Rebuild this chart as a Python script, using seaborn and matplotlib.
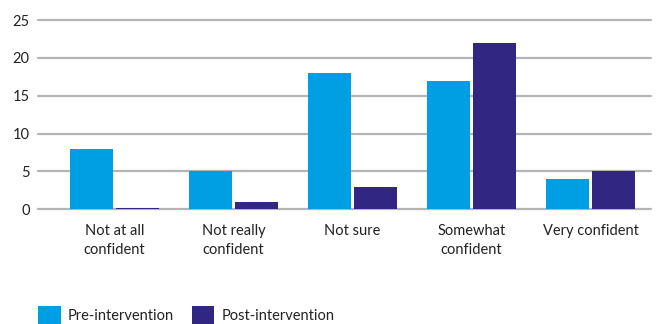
import matplotlib
matplotlib.use("Agg")
import matplotlib.pyplot as plt
import matplotlib.patches as mpatches
import seaborn as sns
import pandas as pd

categories = ["Not at all\nconfident", "Not really\nconfident", "Not sure",
              "Somewhat\nconfident", "Very confident"]
pre_values = [8, 5, 18, 17, 4]
post_values = [0.15, 1, 3, 22, 5]
series_names = ["Pre-intervention", "Post-intervention"]
y_ticks = [0, 5, 10, 15, 20, 25]

colors = ["#009FE3", "#312783"]
grid_color = "#b4b4b4"
text_color = "#222222"

df = pd.DataFrame({
    "category": categories * 2,
    "value": pre_values + post_values,
    "series": [series_names[0]] * len(categories) + [series_names[1]] * len(categories),
})

sns.set_style("white")
plt.rcParams["font.family"] = ["Lato", "DejaVu Sans"]

fig = plt.figure(figsize=(6.56, 3.24), dpi=100)
ax = fig.add_axes([38 / 656, 114.7 / 324, (651 - 38) / 656, (304 - 114.7) / 324])

sns.barplot(data=df, x="category", y="value", hue="series", order=categories,
            hue_order=series_names, palette=colors, width=0.765, gap=0.055,
            saturation=1, linewidth=0, edgecolor="none", ax=ax, legend=False)

ax.set_xlim(-0.643, 4.508)
ax.set_ylim(0, 25)
ax.set_yticks(y_ticks)
ax.set_axisbelow(True)
ax.yaxis.grid(True, color=grid_color, linewidth=1.6)
ax.xaxis.grid(False)
for gl in ax.get_ygridlines():
    gl.set_clip_on(False)
for s in ax.spines.values():
    s.set_visible(False)

ax.set_xlabel("")
ax.set_ylabel("")
ax.tick_params(axis="y", length=0, pad=6, labelsize=10.5, labelcolor=text_color)
ax.tick_params(axis="x", length=0, pad=10.5, labelsize=10.5, labelcolor=text_color)
for lbl in ax.get_xticklabels():
    lbl.set_linespacing(1.45)

handles = [mpatches.Patch(facecolor=c, edgecolor="none", label=n)
           for c, n in zip(colors, series_names)]
fig.legend(handles=handles, loc="lower left", bbox_to_anchor=(38 / 656, 0.0),
           ncol=2, frameon=False, fontsize=10.5, handlelength=1.55, handleheight=1.55,
           handletextpad=0.5, columnspacing=1.2, borderpad=0.0, borderaxespad=0.0,
           labelcolor=text_color)

fig.savefig("out.png", dpi=100)
